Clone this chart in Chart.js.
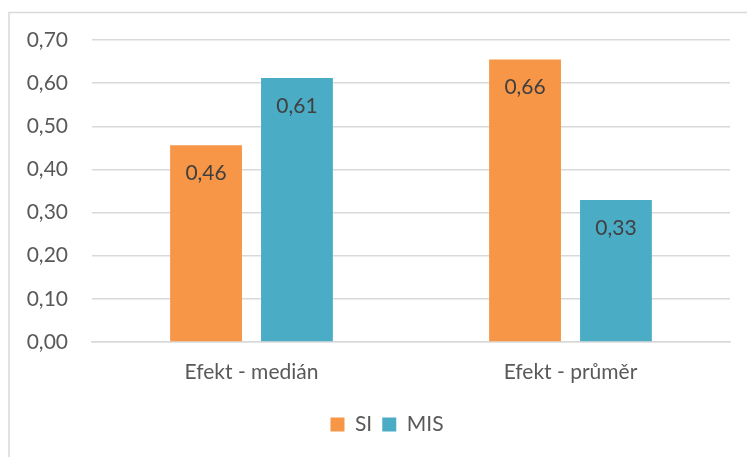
<!DOCTYPE html>
<html>
<head>
<meta charset="utf-8">
<script src="https://cdn.jsdelivr.net/npm/chart.js@4"></script>
<style>
  body { margin: 0; background: #fff; overflow: hidden; }
  #wrap { position: relative; width: 747px; height: 457px; }
</style>
</head>
<body>
<div id="wrap"><canvas id="myChart" width="747" height="457"></canvas></div>
<script>
// data
const categories = ['Efekt - medián', 'Efekt - průměr']
const siValues = [0.456, 0.655]
const misValues = [0.612, 0.329]
const yTicks = [0, 0.1, 0.2, 0.3, 0.4, 0.5, 0.6, 0.7]

const fontFamily = "Lato, 'Open Sans', sans-serif"

function fmt(v){
    return v.toFixed(2).replace('.', ',')
}

// light frame round the chart, like the office export (cut off right and bottom)
const framePlugin = {
    id: 'frame',
    beforeDraw(chart){
        const c = chart.ctx
        c.save()
        c.fillStyle = '#fff'
        c.fillRect(0, 0, chart.width, chart.height)
        c.strokeStyle = '#d9d9d9'
        c.lineWidth = 1.5
        c.strokeRect(9, 12.5, chart.width + 20, chart.height + 20)
        c.restore()
        // the original frame is wider than the picture, so its legend sits right of centre
        if (chart.legend && !chart.legend._shifted) {
            chart.legend.left += 22
            chart.legend.right += 22
            chart.legend._shifted = true
        }
    }
}

// value labels inside the top of each bar
const valueLabels = {
    id: 'valueLabels',
    afterDatasetsDraw(chart){
        const c = chart.ctx
        c.save()
        c.font = '21px ' + fontFamily
        c.fillStyle = '#404040'
        c.textAlign = 'center'
        c.textBaseline = 'middle'
        chart.data.datasets.forEach(function(ds, i){
            chart.getDatasetMeta(i).data.forEach(function(bar, j){
                c.fillText(fmt(ds.data[j]), bar.x, bar.y + 28)
            })
        })
        c.restore()
    }
}

const ctx = document.getElementById('myChart').getContext('2d')
const myChart = new Chart(ctx, {
    type: 'bar',
    data: {
        labels: categories,
        datasets: [{
            label: 'SI',
            data: siValues,
            backgroundColor: '#f79646',
            borderWidth: 0
        }, {
            label: 'MIS',
            data: misValues,
            backgroundColor: '#4bacc6',
            borderWidth: 0
        }]
    },
    options: {
        responsive: false,
        animation: false,
        devicePixelRatio: 1,
        layout: { padding: { left: 0, right: 17, top: 40, bottom: 12 } },
        datasets: {
            bar: { categoryPercentage: 0.57, barPercentage: 0.79 }
        },
        plugins: {
            tooltip: { enabled: false },
            legend: {
                position: 'bottom',
                labels: {
                    boxWidth: 14,
                    boxHeight: 14,
                    padding: 10,
                    color: '#595959',
                    font: { family: fontFamily, size: 21 }
                }
            }
        },
        scales: {
            x: {
                afterFit(scale){
                    scale.height = 62
                },
                grid: { display: false, drawTicks: false },
                border: { color: '#d9d9d9', width: 1.5 },
                ticks: {
                    color: '#595959',
                    padding: 18,
                    font: { family: fontFamily, size: 21 }
                }
            },
            y: {
                min: 0,
                max: 0.7,
                afterBuildTicks(scale){
                    scale.ticks = yTicks.map(function(v){ return { value: v } })
                },
                afterFit(scale){
                    scale.width = 92
                },
                grid: { color: '#d9d9d9', lineWidth: 1.5, drawTicks: false },
                border: { display: false },
                ticks: {
                    color: '#595959',
                    padding: 24,
                    font: { family: fontFamily, size: 21 },
                    callback: function(v){ return fmt(v) }
                }
            }
        }
    },
    plugins: [framePlugin, valueLabels]
})
</script>
</body>
</html>
